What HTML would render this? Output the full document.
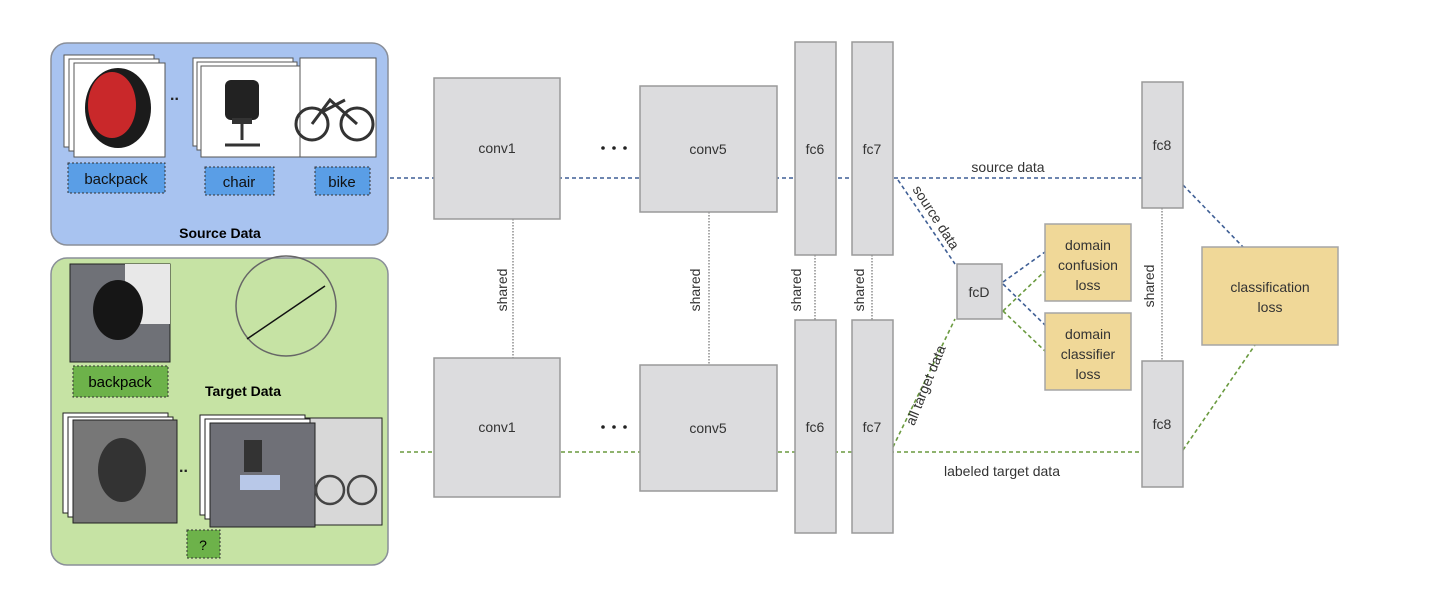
<!DOCTYPE html><html><head><style>body{margin:0;background:#fff}text{font-family:"Liberation Sans",sans-serif}</style></head><body>
<svg width="1440" height="596" viewBox="0 0 1440 596" xmlns="http://www.w3.org/2000/svg">
<rect x="51" y="43" width="337" height="202" rx="16" fill="#a8c3f0" stroke="#8a8f99" stroke-width="1.5"/>
<rect x="51" y="258" width="337" height="307" rx="16" fill="#c6e3a4" stroke="#8a8f99" stroke-width="1.5"/>
<g stroke="#555" fill="#fff"><rect x="64" y="55" width="90" height="92"/><rect x="69" y="59" width="90" height="92"/><rect x="74" y="63" width="91" height="94"/></g>
<ellipse cx="118" cy="108" rx="33" ry="40" fill="#1b1b1b"/><ellipse cx="112" cy="105" rx="24" ry="33" fill="#c9282a"/>
<text x="170" y="100" font-size="16" font-weight="bold" fill="#222">..</text>
<g stroke="#555" fill="#fff"><rect x="193" y="58" width="100" height="88"/><rect x="197" y="62" width="100" height="88"/><rect x="201" y="66" width="100" height="91"/><rect x="300" y="58" width="76" height="99"/></g>
<rect x="225" y="80" width="34" height="40" rx="6" fill="#222"/><rect x="232" y="118" width="20" height="6" fill="#333"/><line x1="242" y1="124" x2="242" y2="140" stroke="#333" stroke-width="3"/><line x1="225" y1="145" x2="260" y2="145" stroke="#333" stroke-width="3"/>
<g fill="none" stroke="#333" stroke-width="3"><circle cx="312" cy="124" r="16"/><circle cx="357" cy="124" r="16"/><path d="M312 124 L330 100 L357 124 M322 112 L345 100"/></g>
<g fill="#5a9ee6" stroke="#333" stroke-dasharray="2,2"><rect x="68" y="163" width="97" height="30"/><rect x="205" y="167" width="69" height="28"/><rect x="315" y="167" width="55" height="28"/></g>
<g font-size="15" fill="#111" text-anchor="middle"><text x="116" y="184">backpack</text><text x="239" y="187">chair</text><text x="342" y="187">bike</text></g>
<text x="220" y="238" font-size="14" font-weight="bold" text-anchor="middle">Source Data</text>
<rect x="70" y="264" width="100" height="98" fill="#6f7177" stroke="#222"/><rect x="125" y="264" width="45" height="60" fill="#e8e8e8"/>
<ellipse cx="118" cy="310" rx="25" ry="30" fill="#161616"/>
<rect x="73" y="366" width="95" height="31" fill="#6db24a" stroke="#333" stroke-dasharray="2,2"/><text x="120" y="387" font-size="15" text-anchor="middle">backpack</text>
<circle cx="286" cy="306" r="50" fill="none" stroke="#666" stroke-width="1.5"/><line x1="247" y1="339" x2="325" y2="286" stroke="#111" stroke-width="1.5"/>
<text x="243" y="396" font-size="14" font-weight="bold" text-anchor="middle">Target Data</text>
<g stroke="#222" fill="#fff"><rect x="63" y="413" width="105" height="100"/><rect x="68" y="417" width="105" height="100"/><rect x="73" y="420" width="104" height="103" fill="#777"/></g>
<ellipse cx="122" cy="470" rx="24" ry="32" fill="#333"/>
<text x="179" y="472" font-size="16" font-weight="bold" fill="#222">..</text>
<g stroke="#222" fill="#fff"><rect x="300" y="418" width="82" height="107" fill="#d8d8d8"/><rect x="200" y="415" width="105" height="100"/><rect x="205" y="419" width="105" height="100"/><rect x="210" y="423" width="105" height="104" fill="#6f7077"/></g>
<rect x="240" y="475" width="40" height="15" fill="#b8c8e8"/><rect x="244" y="440" width="18" height="32" fill="#333"/>
<g fill="none" stroke="#444" stroke-width="2.5"><circle cx="330" cy="490" r="14"/><circle cx="362" cy="490" r="14"/></g>
<rect x="187" y="530" width="33" height="28" fill="#6db24a" stroke="#333" stroke-dasharray="2,2"/><text x="203" y="550" font-size="14" text-anchor="middle">?</text>
<g fill="none" stroke-width="1.6" stroke-dasharray="4,3">
<g stroke="#3f5f95"><line x1="390" y1="178" x2="1142" y2="178"/><line x1="898" y1="180" x2="955" y2="264"/><line x1="1003" y1="282" x2="1045" y2="252"/><line x1="1003" y1="284" x2="1045" y2="325"/><line x1="1183" y1="185" x2="1243" y2="247"/></g>
<g stroke="#6a9a3f"><line x1="400" y1="452" x2="1142" y2="452"/><line x1="893" y1="447" x2="955" y2="319"/><line x1="1003" y1="311" x2="1045" y2="271"/><line x1="1003" y1="311" x2="1045" y2="351"/><line x1="1183" y1="450" x2="1255" y2="345"/></g>
</g>
<g stroke="#555" stroke-width="1" stroke-dasharray="1.5,1.5"><line x1="513" y1="219" x2="513" y2="358"/><line x1="709" y1="212" x2="709" y2="365"/><line x1="815" y1="255" x2="815" y2="320"/><line x1="872" y1="255" x2="872" y2="320"/><line x1="1162" y1="208" x2="1162" y2="361"/></g>
<g fill="#222"><circle cx="603" cy="148" r="1.8"/><circle cx="614" cy="148" r="1.8"/><circle cx="625" cy="148" r="1.8"/><circle cx="603" cy="427" r="1.8"/><circle cx="614" cy="427" r="1.8"/><circle cx="625" cy="427" r="1.8"/></g>
<g fill="#dcdcde" stroke="#9a9a9a" stroke-width="1.5">
<rect x="434" y="78" width="126" height="141"/><rect x="640" y="86" width="137" height="126"/><rect x="795" y="42" width="41" height="213"/><rect x="852" y="42" width="41" height="213"/><rect x="1142" y="82" width="41" height="126"/>
<rect x="434" y="358" width="126" height="139"/><rect x="640" y="365" width="137" height="126"/><rect x="795" y="320" width="41" height="213"/><rect x="852" y="320" width="41" height="213"/><rect x="1142" y="361" width="41" height="126"/>
<rect x="957" y="264" width="45" height="55"/></g>
<g fill="#f0d898" stroke="#a5a5a5" stroke-width="1.5"><rect x="1045" y="224" width="86" height="77"/><rect x="1045" y="313" width="86" height="77"/><rect x="1202" y="247" width="136" height="98"/></g>
<g font-size="14" fill="#333" text-anchor="middle">
<text x="497" y="153">conv1</text><text x="708" y="154">conv5</text><text x="815" y="154">fc6</text><text x="872" y="154">fc7</text><text x="1162" y="150">fc8</text>
<text x="497" y="432">conv1</text><text x="708" y="433">conv5</text><text x="815" y="432">fc6</text><text x="872" y="432">fc7</text><text x="1162" y="429">fc8</text>
<text x="979" y="297">fcD</text>
<text x="1088" y="250">domain</text><text x="1088" y="270">confusion</text><text x="1088" y="290">loss</text>
<text x="1088" y="339">domain</text><text x="1088" y="359">classifier</text><text x="1088" y="379">loss</text>
<text x="1270" y="292">classification</text><text x="1270" y="312">loss</text>
<text x="1008" y="172">source data</text><text x="1002" y="476">labeled target data</text>
<text transform="translate(507,290) rotate(-90)">shared</text><text transform="translate(700,290) rotate(-90)">shared</text><text transform="translate(801,290) rotate(-90)">shared</text><text transform="translate(864,290) rotate(-90)">shared</text><text transform="translate(1154,286) rotate(-90)">shared</text>
<text transform="translate(932,220) rotate(57)">source data</text>
<text transform="translate(930,387) rotate(-68)">all target data</text>
</g>
</svg></body></html>
